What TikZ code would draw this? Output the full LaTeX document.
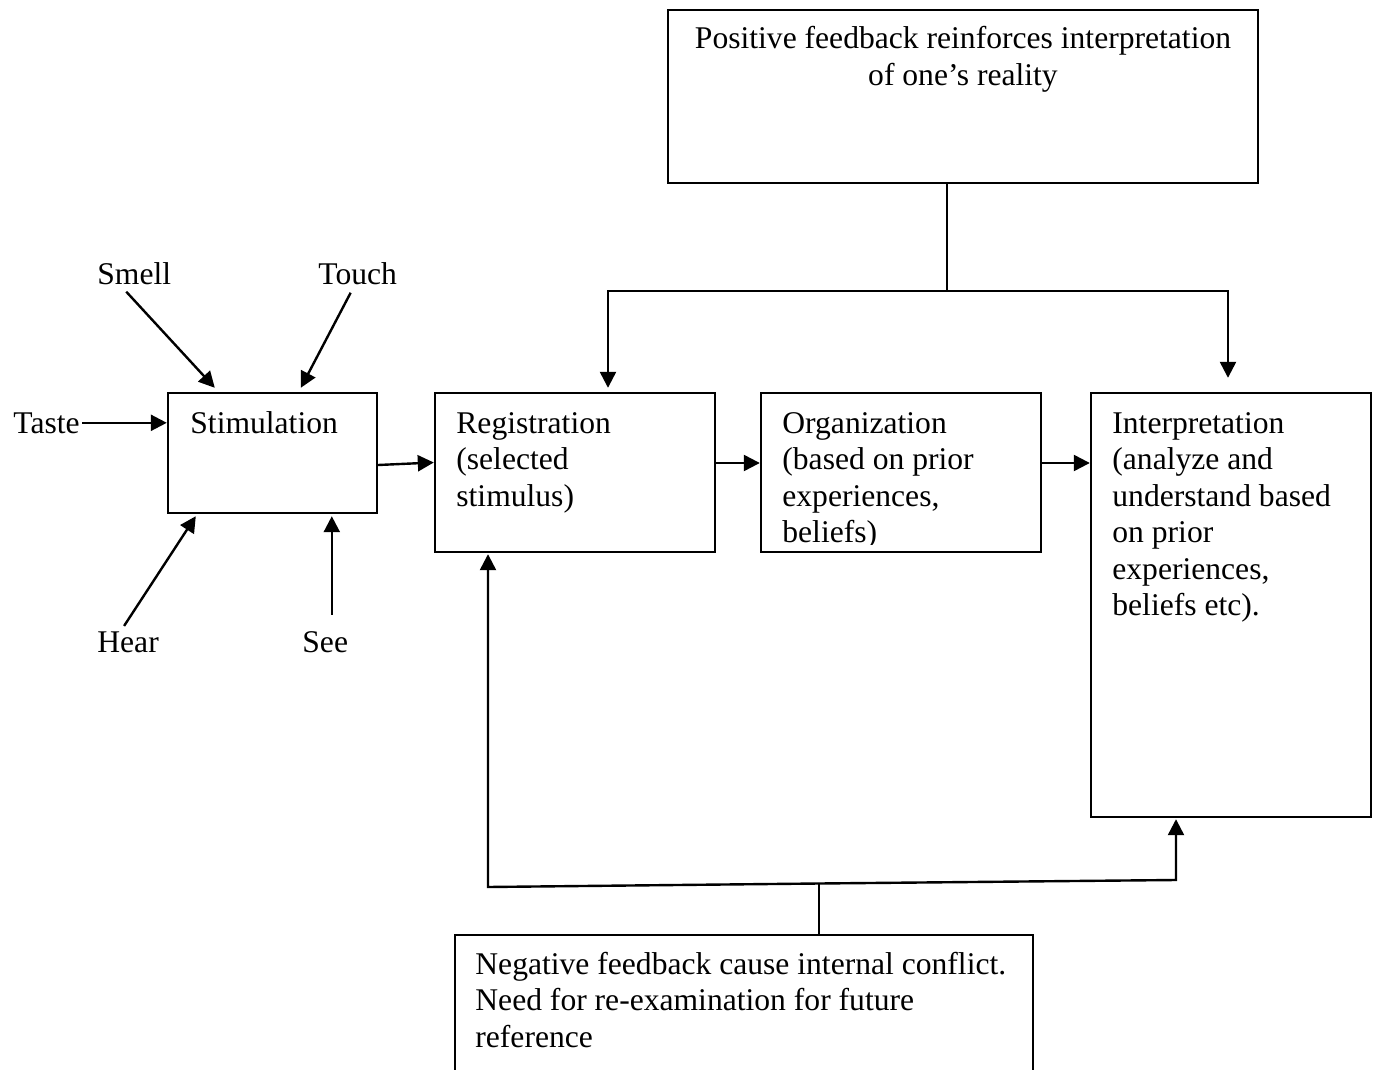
\documentclass[tikz,border=0pt]{standalone}
\usepackage{fontspec}
\setmainfont{Liberation Serif}
\usetikzlibrary{arrows.meta,fit,calc}
\begin{document}
\begin{tikzpicture}[x=0.5pt,y=-0.5pt,
  box/.style={draw, line width=1.2pt, inner sep=0pt},
  txt/.style={inner sep=0pt, font=\fontsize{15.8pt}{18.25pt}\selectfont, anchor=base west},
  lbl/.style={inner sep=1pt, font=\fontsize{15.8pt}{18.25pt}\selectfont, anchor=base west},
  arr/.style={line width=1.2pt, -{Triangle[length=8pt,width=8pt]}},
  thinline/.style={line width=0.7pt}]
\useasboundingbox[fill=white] (0,0) rectangle (1377,1070);

% boxes
\node[box, fit={(668,10) (1258,183)}] (pos) {};
\node[box, fit={(168,393) (377,513)}] (stim) {};
\node[box, fit={(435,393) (715,552)}] (reg) {};
\node[box, fit={(761,393) (1041,552)}] (org) {};
\node[box, fit={(1091,393) (1371,817)}] (interp) {};
\node[box, fit={(455,935) (1033,1100)}] (neg) {};

% box texts
\node[txt, anchor=base] (post) at (963,49) {\parbox[t]{320pt}{\centering Positive feedback reinforces interpretation\\of one’s reality}};
\node[txt] (stimt) at (190,433) {\parbox[t]{120pt}{Stimulation}};
\node[txt] (regt) at (456,433) {\parbox[t]{120pt}{Registration\\(selected\\stimulus)}};
\begin{scope}
\clip (761,393) rectangle (1041,544);
\node[txt] (orgt) at (782,433) {\parbox[t]{130pt}{Organization\\(based on prior\\experiences,\\beliefs)}};
\end{scope}
\node[txt] (interpt) at (1112,433) {\parbox[t]{130pt}{Interpretation\\(analyze and\\understand based\\on prior\\experiences,\\beliefs etc).}};
\node[txt] (negt) at (475,974) {\parbox[t]{280pt}{Negative feedback cause internal conflict.\\Need for re-examination for future\\reference}};

% sense labels
\node[lbl] (smell) at (95,285) {Smell};
\node[lbl] (touch) at (316,285) {Touch};
\node[lbl] (taste) at (11,433) {Taste};
\node[lbl] (hear) at (95,652) {Hear};
\node[lbl] (see) at (300,652) {See};

% sense arrows
\coordinate (seeend) at ([shift={(165,2)}]stim.south west);
\draw[arr] (taste.east) -- (stim.west |- taste.east);
\draw[arr] ([shift={(-8,4)}]smell.south) -- ([shift={(48,-4)}]stim.north west);
\draw[arr] ([shift={(-7,5)}]touch.south) -- ([shift={(134,-4)}]stim.north west);
\draw[arr] ([shift={(-4,-3)}]hear.north) -- ([shift={(29,2)}]stim.south west);
\draw[arr] ($(see.north -| seeend)+(0,-14)$) -- (seeend);

% main flow
\coordinate (y463) at (0,463);
\draw[arr] ([shift={(0,12)}]stim.east) -- ([shift={(0,-10)}]reg.west);
\draw[arr] (reg.east |- y463) -- (org.west |- y463);
\draw[arr] (org.east |- y463) -- (interp.west |- y463);

% positive feedback connectors
\coordinate (pj) at (947,291);
\coordinate (pl) at (608,291);
\coordinate (pr) at (1228,291);
\draw[thinline] (pos.south -| pj) -- (pj);
\draw[arr] (pj) -- (pl) -- ($(pl |- reg.north)+(0,-4)$);
\draw[arr] (pj) -- (pr) -- ($(pr |- interp.north)+(0,-14)$);

% negative feedback connectors
\coordinate (nj) at (819,883.5);
\coordinate (nl) at (488,887);
\coordinate (nr) at (1176,880);
\draw[thinline] (neg.north -| nj) -- (nj);
\draw[arr] (nj) -- (nl) -- ($(nl |- reg.south)+(0,1)$);
\draw[arr] (nj) -- (nr) -- ($(nr |- interp.south)+(0,1)$);
\end{tikzpicture}
\end{document}
